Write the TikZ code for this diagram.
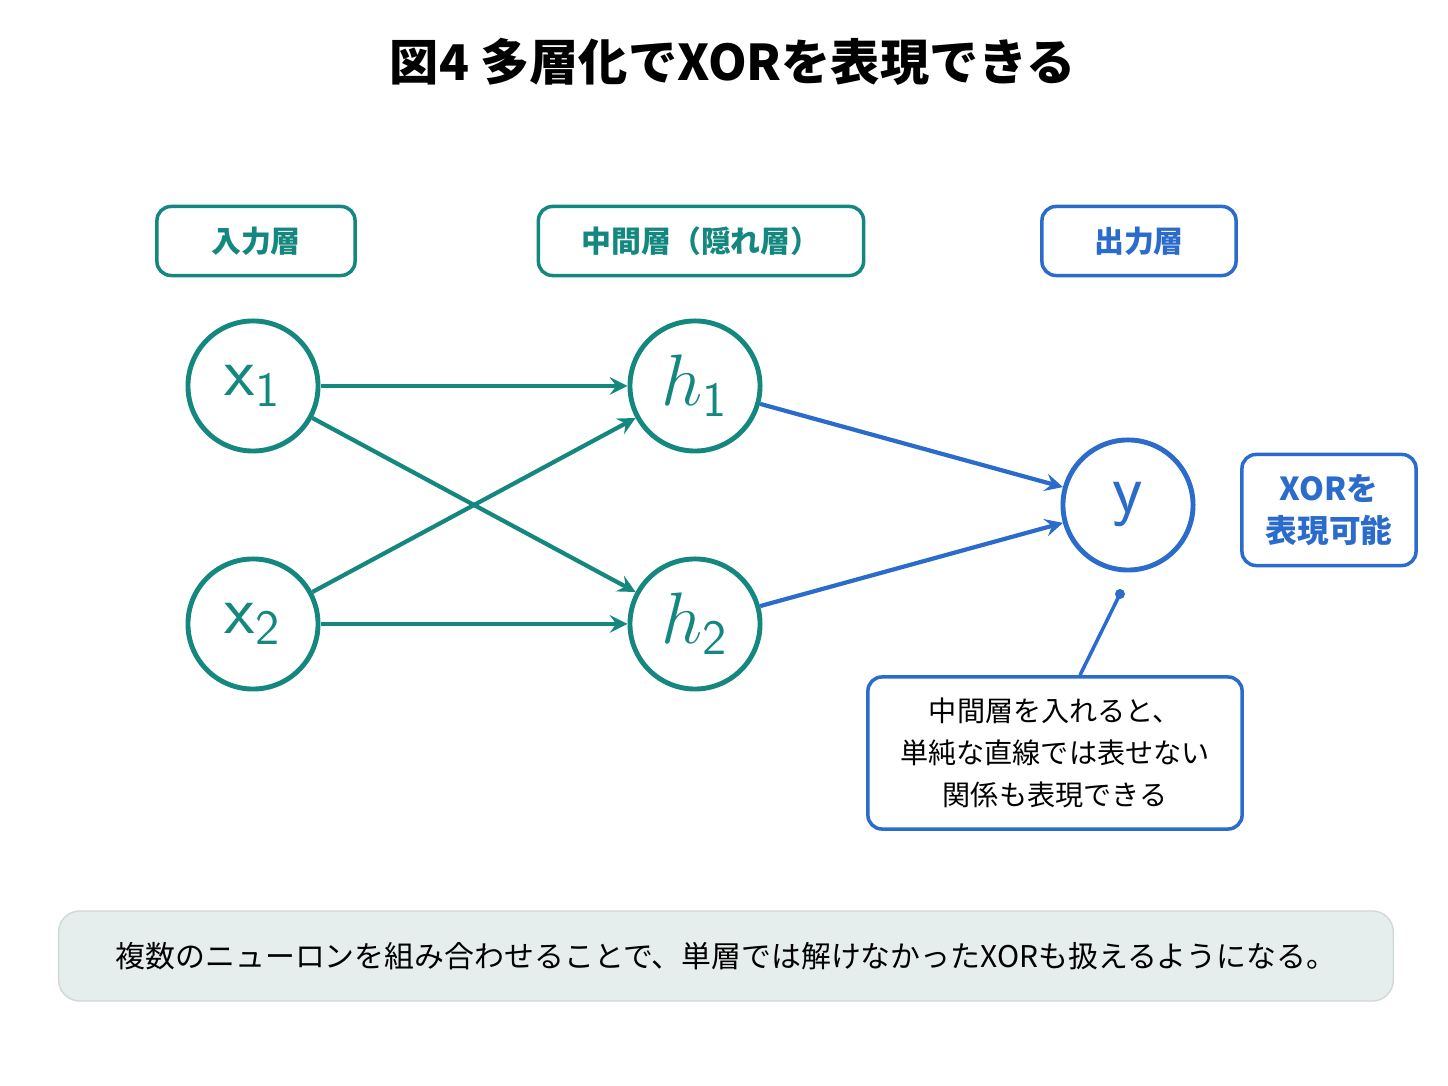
\documentclass[tikz,border=0pt]{standalone}
\usepackage{fontspec}
\setmainfont{Noto Sans CJK JP}
\usepackage{tikz}
\usetikzlibrary{arrows, positioning}
\definecolor{tealc}{HTML}{14877F}
\definecolor{bluec}{HTML}{2A6BCC}
\definecolor{notebg}{HTML}{E6EEED}
\tikzstyle{neur}=[draw, shape=circle, line width=1.4pt, minimum size=1.3cm, inner sep=0pt, font=\fontsize{20}{22}\selectfont]
\tikzstyle{lbl}=[draw, rounded corners=4pt, line width=1pt, font=\fontsize{8.5}{10}\selectfont\bfseries]
\tikzset{>=stealth}

\begin{document}
\begin{tikzpicture}[x=0.01cm, y=-0.01cm]
\useasboundingbox (0,0) rectangle (1448,1086);
\node[font=\fontsize{14}{16}\selectfont\bfseries] (title) at (733,62) {図4 多層化でXORを表現できる};
\node[lbl, tealc, minimum width=1.98cm, minimum height=0.69cm] (Lin) at (256,241) {入力層};
\node[lbl, tealc, minimum width=3.25cm, minimum height=0.69cm] (Lhid) at (701,241) {中間層（隠れ層）};
\node[lbl, bluec, minimum width=1.94cm, minimum height=0.69cm] (Lout) at (1139,241) {出力層};
\node[neur, tealc] (X1) at (253,386) {$\mathsf{x}_{\mathsf{1}}$};
\node[neur, tealc] (X2) at (253,624) {$\mathsf{x}_{\mathsf{2}}$};
\node[neur, tealc] (H1) at (695,386) {$h_{\mathsf{1}}$};
\node[neur, tealc] (H2) at (695,624) {$h_{\mathsf{2}}$};
\node[neur, bluec] (Y) at (1128,505) {$\mathsf{y}$};
\draw[->, tealc, line width=1.2pt] (X1.east) -- (H1.west);
\draw[->, tealc, line width=1.2pt] (X1) -- (H2);
\draw[->, tealc, line width=1.2pt] (X2) -- (H1);
\draw[->, tealc, line width=1.2pt] (X2.east) -- (H2.west);
\draw[->, bluec, line width=1.2pt] (H1) -- (Y);
\draw[->, bluec, line width=1.2pt] (H2) -- (Y);
\node[lbl, bluec, align=center, minimum width=1.74cm, minimum height=1.11cm, font=\fontsize{9}{12}\selectfont\bfseries] (xor) at (1329,510) {XORを\\表現可能};
\node[draw=bluec, rounded corners=4pt, line width=1pt, align=center, minimum width=3.74cm, minimum height=1.52cm, font=\fontsize{8}{12}\selectfont] (note) at (1055,753) {中間層を入れると、\\単純な直線では表せない\\関係も表現できる};
\coordinate (dot) at (1120,594);
\fill[bluec] (dot) circle (5);
\draw[bluec, line width=1pt] (dot) -- (note.north -| 1080,0);
\node[draw=notebg!80!gray, fill=notebg, rounded corners=6pt, minimum width=13.34cm, minimum height=0.9cm, font=\fontsize{8.5}{10}\selectfont] (sum) at (726,956) {複数のニューロンを組み合わせることで、単層では解けなかったXORも扱えるようになる。};
\end{tikzpicture}
\end{document}
